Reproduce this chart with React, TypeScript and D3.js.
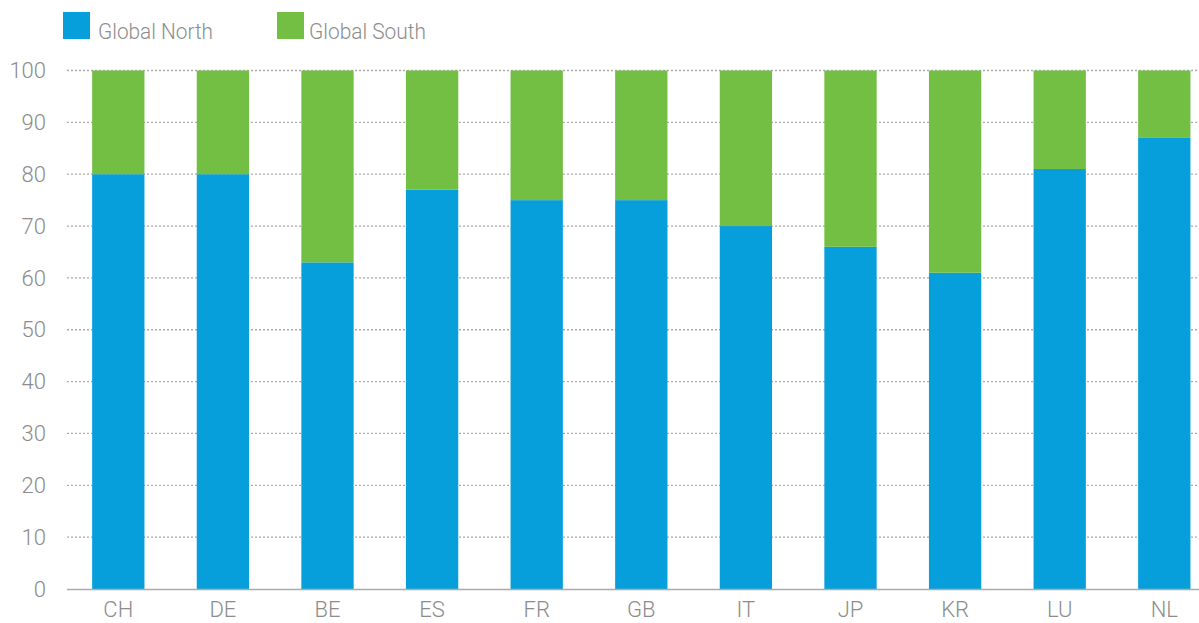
import * as d3 from "d3";

const categories = ["CH", "DE", "BE", "ES", "FR", "GB", "IT", "JP", "KR", "LU", "NL"];
const globalNorth = [80, 80, 63, 77, 75, 75, 70, 66, 61, 81, 87];
const globalSouth = [20, 20, 37, 23, 25, 25, 30, 34, 39, 19, 13];
const yTicks = [0, 10, 20, 30, 40, 50, 60, 70, 80, 90, 100];
const seriesNames = ["Global North", "Global South"];

const width = 1199;
const height = 623;
const colors = ["#079fdb", "#72bf44"];
const textColor = "#8c8c8c";
const font = "Roboto, sans-serif";

export default function App() {
    const x = d3.scaleBand(categories, [66, 1216.6]).paddingInner(0.5).paddingOuter(0.25);
    const y = d3.scaleLinear([0, 100], [589, 70.5]);

    const rows = categories.map((c, i) => ({ c, north: globalNorth[i], south: globalSouth[i] }));
    const stacked = d3.stack().keys(["north", "south"])(rows);

    return (
        <svg width={width} height={height} style={{ position: "absolute", left: 0, top: 0 }}
            fontFamily={font} fontWeight={300}>
            {/* legend */}
            {seriesNames.map((name, i) => (
                <g key={name} transform={`translate(${i === 0 ? 63 : 277},12)`}>
                    <rect width={27} height={27} fill={colors[i]} />
                    <text x={i === 0 ? 35 : 32} y={27} fontSize={22} fill={textColor}
                        textLength={i === 0 ? 115 : 117} lengthAdjust="spacingAndGlyphs">{name}</text>
                </g>
            ))}
            {/* grid */}
            {yTicks.filter((t) => t > 0).map((t) => (
                <line key={t} x1={67} x2={width} y1={y(t)} y2={y(t)} stroke="#aaa" strokeWidth={1.3}
                    strokeDasharray="2,2" />
            ))}
            {yTicks.map((t) => (
                <text key={t} x={46} y={y(t)} dy="0.35em" textAnchor="end" fontSize={22} fill={textColor}>{t}</text>
            ))}
            {/* bars */}
            {stacked.map((s, si) => (
                <g key={s.key} fill={colors[si]}>
                    {s.map((d, i) => (
                        <rect key={i} x={x(categories[i])} width={x.bandwidth()} y={y(d[1])}
                            height={y(d[0]) - y(d[1])} />
                    ))}
                </g>
            ))}
            <line x1={67} x2={width} y1={y(0) + 0.5} y2={y(0) + 0.5} stroke="#aaa" strokeWidth={1.5} />
            {categories.map((c) => (
                <text key={c} x={x(c) + x.bandwidth() / 2} y={617} textAnchor="middle" fontSize={22}
                    fill={textColor}>{c}</text>
            ))}
        </svg>
    );
}
